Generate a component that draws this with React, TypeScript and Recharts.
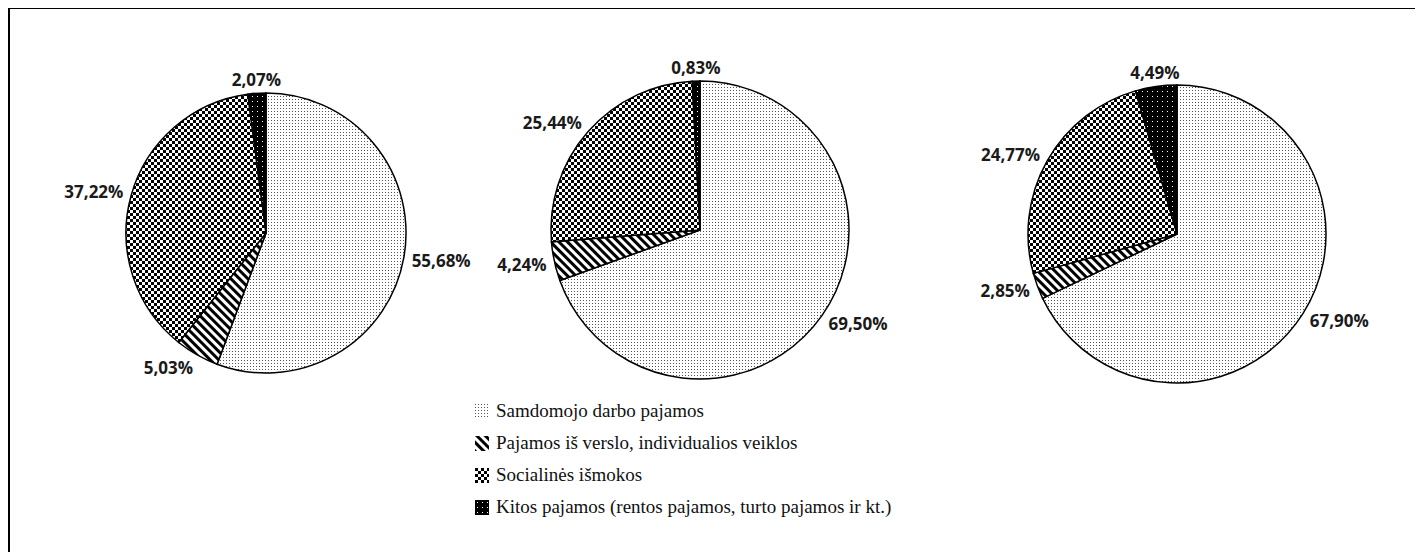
import React from 'react';
import { Cell, Legend, Pie, PieChart } from 'recharts';

// income structure shares, %
const categories = [
  'Samdomojo darbo pajamos',
  'Pajamos iš verslo, individualios veiklos',
  'Socialinės išmokos',
  'Kitos pajamos (rentos pajamos, turto pajamos ir kt.)',
];
const group1 = [55.68, 5.03, 37.22, 2.07];
const group2 = [69.5, 4.24, 25.44, 0.83];
const group3 = [67.9, 2.85, 24.77, 4.49];

const patternIds = ['pat-dots', 'pat-stripes', 'pat-checks', 'pat-black'];

const toRows = (values: number[]) =>
  categories.map((name, i) => ({ name, value: values[i] }));

const fmt = (v: number) => v.toFixed(2).replace('.', ',') + '%';

const RAD = Math.PI / 180;
const serif = "'Liberation Serif', 'DejaVu Serif', 'Times New Roman', serif";

const renderLabel = (p: any) => {
  const d = p.outerRadius + 8;
  const cos = Math.cos(-p.midAngle * RAD);
  const sin = Math.sin(-p.midAngle * RAD);
  const x = p.cx + d * cos;
  const y = p.cy + d * sin + sin * 6;
  const anchor = cos > 0.25 ? 'start' : cos < -0.25 ? 'end' : 'middle';
  return (
    <text
      x={x}
      y={y}
      textAnchor={anchor}
      dominantBaseline="central"
      fontFamily="'Open Sans', sans-serif"
      fontWeight={700}
      fontSize={17}
      fill="#1a1a1a"
    >
      {fmt(p.value)}
    </text>
  );
};

const LegendBox = () => (
  <div style={{ fontFamily: serif, fontSize: 19, color: '#111', lineHeight: '32px' }}>
    {categories.map((c, i) => (
      <div key={c} style={{ display: 'flex', alignItems: 'center', height: 32, whiteSpace: 'nowrap' }}>
        <svg width={14} height={15} style={{ marginRight: 7, flex: 'none' }}>
          <rect x={0} y={0} width={14} height={15} fill={`url(#${patternIds[i]})`} />
        </svg>
        <span>{c}</span>
      </div>
    ))}
  </div>
);

export default function App() {
  const pies = [
    { values: group1, cx: 251, cy: 219, r: 140 },
    { values: group2, cx: 685, cy: 216, r: 149 },
    { values: group3, cx: 1162, cy: 220, r: 149 },
  ];

  return (
    <div
      style={{
        position: 'relative',
        marginTop: -1,
        width: 1415,
        height: 545,
        borderTop: '2px solid #000',
        borderLeft: '2px solid #000',
        background: '#fff',
      }}
    >
      <PieChart width={1413} height={543}>
        <defs>
          <pattern id="pat-dots" width={3} height={3} patternUnits="userSpaceOnUse">
            <rect width={3} height={3} fill="#fff" />
            <rect x={0} y={0} width={1} height={1} fill="#555" />
          </pattern>
          <pattern
            id="pat-stripes"
            width={6}
            height={6}
            patternUnits="userSpaceOnUse"
            patternTransform="rotate(-45)"
          >
            <rect width={6} height={6} fill="#fff" />
            <rect x={0} y={0} width={3} height={6} fill="#000" />
          </pattern>
          <pattern id="pat-checks" width={6} height={6} patternUnits="userSpaceOnUse">
            <rect width={6} height={6} fill="#fff" />
            <rect x={0} y={0} width={3} height={3} fill="#000" />
            <rect x={3} y={3} width={3} height={3} fill="#000" />
          </pattern>
          <pattern id="pat-black" width={5} height={5} patternUnits="userSpaceOnUse">
            <rect width={5} height={5} fill="#000" />
            <rect x={2} y={2} width={1} height={1} fill="#fff" />
          </pattern>
        </defs>
        {pies.map((pie, k) => (
          <Pie
            key={k}
            data={toRows(pie.values)}
            dataKey="value"
            nameKey="name"
            cx={pie.cx}
            cy={pie.cy}
            outerRadius={pie.r}
            startAngle={90}
            endAngle={-270}
            stroke="#000"
            strokeWidth={1.5}
            label={renderLabel}
            labelLine={false}
            isAnimationActive={false}
          >
            {categories.map((c, i) => (
              <Cell key={c} fill={`url(#${patternIds[i]})`} />
            ))}
          </Pie>
        ))}
        <Legend
          content={<LegendBox />}
          wrapperStyle={{ position: 'absolute', left: 465, top: 386, width: 'auto' }}
        />
      </PieChart>
    </div>
  );
}
